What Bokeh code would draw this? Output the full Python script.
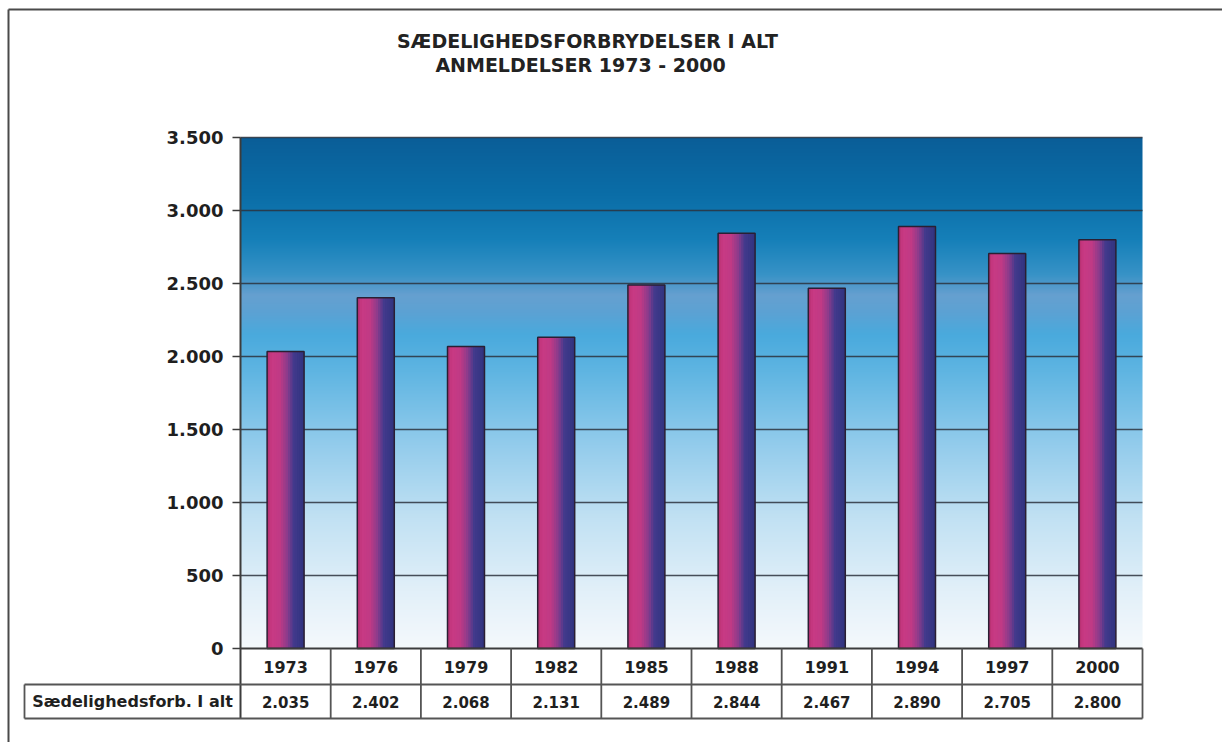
import numpy as np
from bokeh.plotting import figure
from bokeh.models import Range1d
from bokeh.core.properties import value
from bokeh.embed import file_html
from bokeh.resources import INLINE

# ---------------- data ----------------
title_lines = ["SÆDELIGHEDSFORBRYDELSER I ALT", "ANMELDELSER 1973 - 2000"]
years = ["1973", "1976", "1979", "1982", "1985", "1988", "1991", "1994", "1997", "2000"]
counts = [2035, 2402, 2068, 2131, 2489, 2844, 2467, 2890, 2705, 2800]
series_label = "Sædelighedsforb. I alt"
y_ticks = [0, 500, 1000, 1500, 2000, 2500, 3000, 3500]


def fmt(v):
    return f"{v:,}".replace(",", ".")


# ---------------- layout geometry (page pixels) ----------------
W, H = 1222, 742
FRAME_L, FRAME_T, ZERO_Y = 240, 137, 648
COL_W = 90.2
Y_MAX = y_ticks[-1]
K = Y_MAX / (ZERO_Y - FRAME_T)
ROW1_BOTTOM_PX, ROW2_BOTTOM_PX = 684, 718
CELL_LEFT_PX = 24


def dx(px):
    return -0.5 + (px - FRAME_L) / COL_W


def dy(py):
    return (ZERO_Y - py) * K


FONT = value("DejaVu Sans")
TXT = "#1f1f1f"
LINE = "#3c3c3c"
n = len(years)
xs_cat = list(range(n))

p = figure(width=W, height=H,
           x_range=Range1d(dx(0), dx(W)), y_range=Range1d(dy(H), dy(0)),
           x_axis_type=None, y_axis_type=None,
           toolbar_location=None, output_backend="svg",
           min_border=0, min_border_left=0, min_border_right=0,
           min_border_top=0, min_border_bottom=0,
           background_fill_color="white", border_fill_color="white",
           outline_line_color=None)

# ---------------- background gradient of plot area ----------------
stop_v = [0, 400, 900, 1400, 1900, 2150, 2300, 2420, 2560, 2800, 3100, 3500]
stop_c = ["#f5f9fc", "#e2f0f9", "#c1e1f3", "#93ccec", "#5fb5e2", "#4aaadd",
          "#5ca2d4", "#66a0d0", "#3893c7", "#1680b9", "#0b6ea8", "#0a5e98"]
NR = 511
yy = (np.arange(NR) + 0.5) / NR * Y_MAX
rgb = np.array([[int(c[1:3], 16), int(c[3:5], 16), int(c[5:7], 16)] for c in stop_c], dtype=float)
img = np.empty((NR, 1), dtype=np.uint32)
view = img.view(dtype=np.uint8).reshape((NR, 1, 4))
for ch in range(3):
    view[:, 0, ch] = np.interp(yy, stop_v, rgb[:, ch]).astype(np.uint8)
view[:, 0, 3] = 255
p.image_rgba(image=[img], x=-0.5, y=0, dw=n, dh=Y_MAX)

# ---------------- gridlines ----------------
grid_y = y_ticks[1:]
p.segment(x0=[-0.5] * len(grid_y), x1=[n - 0.5] * len(grid_y), y0=grid_y, y1=grid_y,
          line_color="#2c333d", line_width=1.6, line_alpha=0.85)

# ---------------- bars with horizontal gradient ----------------
bar_w = 0.41
NS = 16
bstop_t = [0.0, 0.12, 0.35, 0.55, 0.72, 1.0]
bstop_c = ["#b4306f", "#c93a84", "#c03a86", "#8a3c8c", "#433a8d", "#30347f"]
brgb = np.array([[int(c[1:3], 16), int(c[3:5], 16), int(c[5:7], 16)] for c in bstop_c], dtype=float)
strip_cols = []
for s in range(NS):
    t = (s + 0.5) / NS
    r, g, b = (int(np.interp(t, bstop_t, brgb[:, ch])) for ch in range(3))
    strip_cols.append(f"#{r:02x}{g:02x}{b:02x}")
sl, sr, stop_, scol = [], [], [], []
for i, v in enumerate(counts):
    left_edge = i - bar_w / 2
    for s in range(NS):
        sl.append(left_edge + s * bar_w / NS)
        sr.append(min(left_edge + (s + 1.7) * bar_w / NS, i + bar_w / 2))
        stop_.append(v)
        scol.append(strip_cols[s])
p.quad(left=sl, right=sr, top=stop_, bottom=0, fill_color=scol, line_color=None)
p.vbar(x=xs_cat, top=counts, bottom=0, width=bar_w, fill_color=None,
       line_color="#2a1f33", line_width=1.5)

# ---------------- y axis (line, ticks, labels) ----------------
y_bottom_table = dy(ROW2_BOTTOM_PX)
p.segment(x0=[-0.5], x1=[-0.5], y0=[y_bottom_table], y1=[Y_MAX], line_color=LINE, line_width=2)
p.segment(x0=[dx(232)] * len(y_ticks), x1=[-0.5] * len(y_ticks), y0=y_ticks, y1=y_ticks,
          line_color=LINE, line_width=1.5)
p.text(x=[dx(223)] * len(y_ticks), y=y_ticks, text=[fmt(t) for t in y_ticks],
       text_align="right", text_baseline="middle", text_font=FONT, text_font_style="bold",
       text_font_size="18px", text_color=TXT)

# ---------------- data table below the plot ----------------
r1 = dy(ROW1_BOTTOM_PX)
r2 = dy(ROW2_BOTTOM_PX)
p.segment(x0=[-0.5], x1=[n - 0.5], y0=[0], y1=[0], line_color=LINE, line_width=2)
p.segment(x0=[dx(CELL_LEFT_PX)] * 2, x1=[n - 0.5] * 2, y0=[r1, r2], y1=[r1, r2],
          line_color="#555555", line_width=1.8)
vx = [i + 0.5 for i in xs_cat]
p.segment(x0=vx, x1=vx, y0=[r2] * n, y1=[0] * n, line_color="#555555", line_width=1.8)
p.segment(x0=[dx(CELL_LEFT_PX)], x1=[dx(CELL_LEFT_PX)], y0=[r2], y1=[r1],
          line_color="#555555", line_width=1.8)
p.text(x=xs_cat, y=[r1 / 2] * n, text=years, text_align="center", text_baseline="middle",
       text_font=FONT, text_font_style="bold", text_font_size="16px", text_color=TXT)
p.text(x=xs_cat, y=[(r1 + r2) / 2] * n, text=[fmt(v) for v in counts],
       text_align="center", text_baseline="middle",
       text_font=FONT, text_font_style="bold", text_font_size="15px", text_color=TXT)
p.text(x=[(dx(CELL_LEFT_PX) - 0.5) / 2], y=[(r1 + r2) / 2], text=[series_label],
       text_align="center", text_baseline="middle",
       text_font=FONT, text_font_style="bold", text_font_size="16px", text_color=TXT)

# ---------------- title ----------------
p.text(x=[dx(587), dx(580)], y=[dy(40), dy(64)], text=title_lines,
       text_align="center", text_baseline="middle",
       text_font=FONT, text_font_style="bold", text_font_size="19px", text_color="#222222")

# ---------------- outer border (scan frame) ----------------
p.segment(x0=[dx(8), dx(8)], x1=[dx(W), dx(8)], y0=[dy(9), dy(9)], y1=[dy(9), dy(H)],
          line_color="#4a4a4a", line_width=2)

open("out.html", "w").write(file_html(p, INLINE))
